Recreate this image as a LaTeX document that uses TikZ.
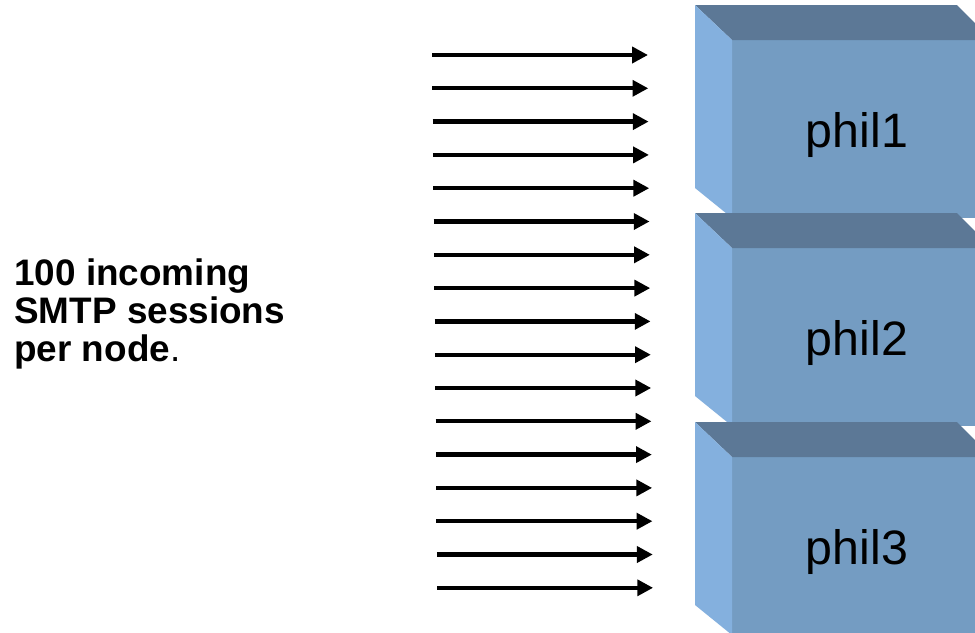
\documentclass[tikz,border=0pt]{standalone}
\usepackage{fontspec}
\setmainfont{Liberation Sans}
\usetikzlibrary{arrows.meta}
\definecolor{boxfront}{RGB}{116,156,194}
\definecolor{boxtop}{RGB}{92,120,150}
\definecolor{boxside}{RGB}{132,176,222}

\begin{document}
\begin{tikzpicture}[
                x=0.02cm,
                y=-0.02cm,
                session/.style={
                    line width=2.4pt,
                    -{Triangle[length=9pt,width=9pt]},
                },
                hostname/.style={
                    font=\fontsize{27.5}{30}\selectfont,
                },
                caption/.style={
                    align=left,
                    inner sep=0pt,
                    font=\fontsize{21}{21.5}\selectfont\bfseries,
                },
            ]
            \useasboundingbox (0,0) rectangle (975,633);
            \clip (0,0) rectangle (975,633);

            % mail nodes
            \foreach \n/\top in {1/5, 2/213, 3/422} {
                \fill[boxfront] (732,\top+35) rectangle (1000,\top+213);
                \fill[boxtop] (695,\top) -- (957,\top) -- (992,\top+35)
                    -- (732,\top+35) -- cycle;
                \fill[boxside] (695,\top) -- (732,\top+35) -- (732,\top+213)
                    -- (695,\top+183) -- cycle;
                \node [hostname] (phil\n) at (857,\top+130) {phil\n};
            }

            % incoming sessions
            \foreach \i in {0,...,16} {
                \coordinate (from\i) at (432+0.32*\i, 55+33.3*\i);
                \coordinate (to\i) at (648+0.32*\i, 55+33.3*\i);
                \draw [session] (from\i) -- (to\i);
            }

            \node [caption, anchor=west] (load) at (14,314)
                {100 incoming\\SMTP sessions\\per node{\mdseries.}};
        \end{tikzpicture}
\end{document}
